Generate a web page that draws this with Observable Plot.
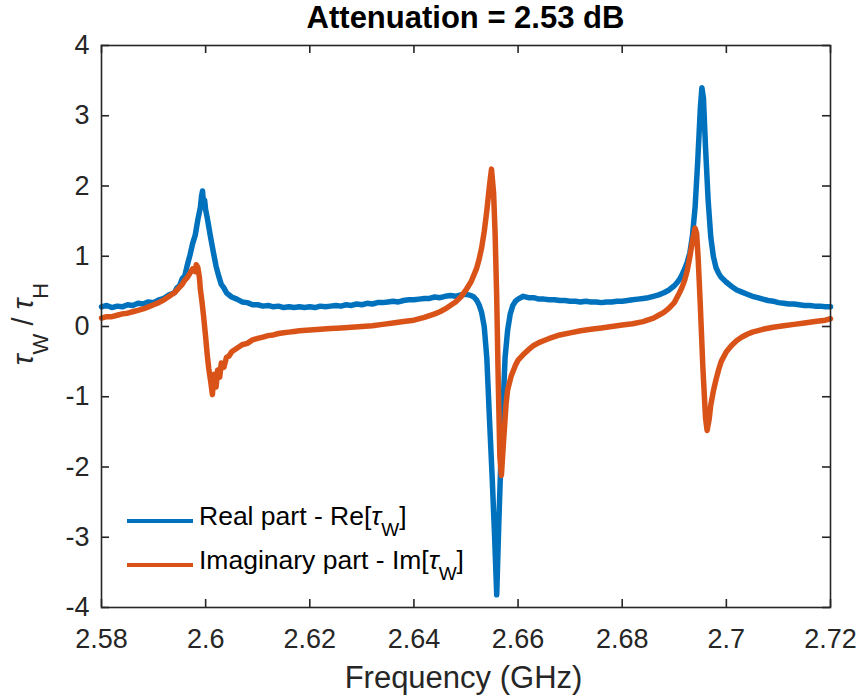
<!DOCTYPE html>
<html><head><meta charset="utf-8">
<script src="https://cdn.jsdelivr.net/npm/d3@7"></script>
<script src="https://cdn.jsdelivr.net/npm/@observablehq/plot@0.6"></script>
<style>body{margin:0;background:#fff} svg{display:block}</style>
</head><body><div id="chart"></div>
<script>
const title = "Attenuation = 2.53 dB";
const xLabel = "Frequency (GHz)";
const seriesNames = ["Real part - Re[", "Imaginary part - Im["];
const colors = ["#0072BD", "#D95319"];
const xTicks = [2.58, 2.6, 2.62, 2.64, 2.66, 2.68, 2.7, 2.72];
const xTickLabels = ["2.58", "2.6", "2.62", "2.64", "2.66", "2.68", "2.7", "2.72"];
const yTicks = [-4, -3, -2, -1, 0, 1, 2, 3, 4];

const freqRe = [2.580,2.581,2.582,2.583,2.584,2.585,2.586,2.587,2.588,2.589,
2.590,2.591,2.592,2.593,2.594,2.5945,2.595,2.5955,2.596,2.5965,2.597,2.5975,2.598,2.5985,2.599,2.5992,2.5994,2.5996,2.5998,
2.600,2.6003,2.6006,2.601,2.6015,2.602,2.6025,2.603,2.6035,2.604,2.605,2.606,2.607,2.608,2.609,
2.610,2.611,2.612,2.613,2.614,2.615,2.616,2.617,2.618,2.619,
2.620,2.621,2.622,2.623,2.624,2.625,2.626,2.627,2.628,2.629,
2.630,2.631,2.632,2.633,2.634,2.635,2.636,2.637,2.638,2.639,
2.640,2.641,2.642,2.643,2.644,2.645,2.646,2.647,2.648,2.649,
2.650,2.6505,2.651,2.6515,2.652,2.6525,2.653,2.6535,2.654,2.6545,2.655,2.6555,2.6559,2.6563,2.6567,2.657,2.6575,2.658,2.6585,2.659,2.6595,
2.660,2.661,2.662,2.663,2.664,2.665,2.666,2.667,2.668,2.669,
2.670,2.671,2.672,2.673,2.674,2.675,2.676,2.677,2.678,2.679,
2.680,2.681,2.682,2.683,2.684,2.685,2.686,2.687,2.688,2.689,
2.690,2.6905,2.691,2.6915,2.692,2.6925,2.693,2.6935,2.694,2.6945,2.695,2.6953,2.6956,2.696,2.6965,2.697,2.6975,2.698,2.6985,2.699,
2.700,2.701,2.702,2.703,2.704,2.705,2.706,2.707,2.708,2.709,
2.710,2.711,2.712,2.713,2.714,2.715,2.716,2.717,2.718,2.719,2.720];
const re = [0.28,0.30,0.27,0.29,0.28,0.31,0.30,0.33,0.32,0.35,
0.34,0.38,0.40,0.45,0.48,0.55,0.58,0.68,0.72,0.88,1.02,1.18,1.30,1.52,1.70,1.85,1.93,1.74,1.80,
1.66,1.55,1.42,1.25,1.05,0.86,0.72,0.60,0.55,0.48,0.42,0.39,0.35,0.34,0.31,
0.31,0.29,0.30,0.28,0.29,0.27,0.28,0.27,0.28,0.27,
0.28,0.27,0.29,0.28,0.29,0.30,0.29,0.31,0.30,0.32,
0.31,0.33,0.32,0.34,0.34,0.35,0.36,0.35,0.37,0.38,
0.38,0.39,0.40,0.40,0.42,0.41,0.43,0.44,0.43,0.45,
0.46,0.45,0.44,0.42,0.38,0.31,0.20,0.00,-0.45,-1.30,-2.10,-3.00,-3.82,-2.80,-1.90,-1.35,-0.45,-0.05,0.18,0.30,0.36,
0.39,0.43,0.41,0.41,0.39,0.39,0.38,0.38,0.37,0.37,
0.36,0.36,0.35,0.36,0.35,0.35,0.34,0.35,0.35,0.36,
0.36,0.37,0.38,0.39,0.40,0.41,0.43,0.45,0.48,0.52,
0.58,0.62,0.67,0.74,0.82,0.92,1.05,1.30,1.70,2.35,3.10,3.40,3.25,2.55,1.80,1.28,1.00,0.84,0.76,0.70,
0.63,0.57,0.52,0.49,0.46,0.43,0.41,0.39,0.37,0.36,
0.34,0.33,0.32,0.32,0.31,0.30,0.30,0.29,0.29,0.28,0.28];

const freqIm = [2.580,2.581,2.582,2.583,2.584,2.585,2.586,2.587,2.588,2.589,
2.590,2.591,2.592,2.593,2.594,2.595,2.5955,2.596,2.5965,2.597,2.5975,2.598,2.5982,2.5985,2.5988,2.599,2.5993,2.5996,
2.600,2.6003,2.6006,2.601,2.6013,2.6016,2.602,2.6023,2.6027,2.603,2.6035,2.604,2.6045,2.605,2.606,2.607,2.608,2.609,
2.610,2.611,2.612,2.613,2.614,2.615,2.616,2.617,2.618,2.620,2.622,2.624,2.626,2.628,
2.630,2.632,2.634,2.636,2.638,2.640,2.642,2.644,2.645,2.646,2.647,2.648,2.649,
2.650,2.651,2.652,2.6525,2.653,2.6535,2.654,2.6545,2.6549,2.6553,2.6556,2.6559,2.6562,2.6565,2.6568,2.6572,2.6577,2.658,2.6587,2.6595,
2.660,2.661,2.662,2.663,2.664,2.665,2.666,2.668,2.670,2.672,2.674,2.676,2.678,
2.680,2.682,2.684,2.686,2.687,2.688,2.689,
2.690,2.691,2.6915,2.692,2.6925,2.693,2.6935,2.694,2.6943,2.6946,2.695,2.6955,2.696,2.6963,2.6967,2.697,2.6975,2.698,2.6985,2.699,
2.700,2.701,2.702,2.703,2.704,2.705,2.707,2.709,2.711,2.713,2.715,2.717,2.719,2.720];
const im = [0.12,0.14,0.14,0.16,0.18,0.19,0.21,0.23,0.25,0.28,
0.31,0.34,0.38,0.43,0.48,0.56,0.60,0.66,0.70,0.76,0.82,0.78,0.88,0.84,0.70,0.52,0.35,0.15,
-0.15,-0.40,-0.60,-0.80,-0.97,-0.68,-0.86,-0.62,-0.72,-0.52,-0.58,-0.44,-0.42,-0.36,-0.31,-0.26,-0.24,-0.19,
-0.17,-0.15,-0.13,-0.12,-0.10,-0.09,-0.08,-0.07,-0.06,-0.05,-0.04,-0.03,-0.02,-0.01,
0.00,0.01,0.03,0.05,0.07,0.09,0.13,0.18,0.21,0.25,0.30,0.35,0.42,
0.52,0.64,0.82,0.95,1.12,1.35,1.65,2.00,2.24,1.90,1.30,0.40,-0.80,-1.85,-2.12,-1.65,-1.10,-0.90,-0.70,-0.55,
-0.48,-0.40,-0.33,-0.27,-0.23,-0.20,-0.17,-0.12,-0.09,-0.06,-0.04,-0.02,0.00,
0.02,0.04,0.07,0.12,0.16,0.20,0.26,
0.34,0.48,0.56,0.66,0.80,1.00,1.22,1.40,1.32,0.95,0.30,-0.60,-1.30,-1.48,-1.32,-1.12,-0.92,-0.76,-0.62,-0.50,
-0.36,-0.27,-0.20,-0.15,-0.11,-0.08,-0.04,-0.01,0.01,0.03,0.05,0.07,0.09,0.11];

const reData = freqRe.map((f, i) => ({f, v: re[i]}));
const imData = freqIm.map((f, i) => ({f, v: im[i]}));

const W = 862, H = 700, mL = 101, mR = 32, mT = 45, mB = 93;
const tickLen = 8;
const plotW = W - mL - mR, plotH = H - mT - mB;
const ink = "#262626";
const font = "'Liberation Sans', Arial, Helvetica, sans-serif";
const tickStyle = {stroke: ink, strokeWidth: 1.6};

const plot = Plot.plot({
  width: W, height: H,
  marginLeft: mL, marginRight: mR, marginTop: mT, marginBottom: mB,
  style: {fontFamily: font, color: ink, background: "#fff"},
  x: {domain: [2.58, 2.72]},
  y: {domain: [-4, 4]},
  marks: [
    Plot.line(reData, {x: "f", y: "v", stroke: colors[0], strokeWidth: 5.5, strokeLinejoin: "round"}),
    Plot.line(imData, {x: "f", y: "v", stroke: colors[1], strokeWidth: 5.5, strokeLinejoin: "round"}),
    Plot.tickX(xTicks, {x: d => d, insetTop: plotH - tickLen, ...tickStyle}),
    Plot.tickX(xTicks, {x: d => d, insetBottom: plotH - tickLen, ...tickStyle}),
    Plot.tickY(yTicks, {y: d => d, insetRight: plotW - tickLen, ...tickStyle}),
    Plot.tickY(yTicks, {y: d => d, insetLeft: plotW - tickLen, ...tickStyle}),
    Plot.frame({stroke: ink, strokeWidth: 1.6}),
    Plot.axisX(xTicks, {tickSize: 0, tickPadding: 21, fontSize: 27, label: null,
      tickFormat: d => xTickLabels[xTicks.indexOf(d)]}),
    Plot.axisY(yTicks, {tickSize: 0, tickPadding: 12, fontSize: 27, label: null,
      tickFormat: d => String(d)})
  ]
});

const svg = d3.select(plot);
const cx = mL + plotW / 2;
svg.append("text").attr("x", cx).attr("y", 28).attr("text-anchor", "middle")
  .attr("font-family", font).attr("font-weight", "bold").attr("font-size", 31).attr("fill", "#000").text(title);
svg.append("text").attr("x", cx - 2).attr("y", 688).attr("text-anchor", "middle")
  .attr("font-family", font).attr("font-size", 31).attr("fill", ink).text(xLabel);

// y label
const yl = svg.append("text").attr("transform", `translate(33,${mT + plotH / 2 - 2}) rotate(-90)`)
  .attr("text-anchor", "middle").attr("font-family", font).attr("font-size", 29).attr("fill", ink);
yl.append("tspan").attr("font-style", "italic").text("τ");
yl.append("tspan").attr("font-size", 22).attr("dy", 15).text("W");
yl.append("tspan").attr("dy", -15).text(" / ");
yl.append("tspan").attr("font-style", "italic").text("τ");
yl.append("tspan").attr("font-size", 22).attr("dy", 15).text("H");

// legend
const legY = [521, 565];
seriesNames.forEach((name, i) => {
  svg.append("line").attr("x1", 127).attr("x2", 193).attr("y1", legY[i]).attr("y2", legY[i])
    .attr("stroke", colors[i]).attr("stroke-width", 4);
  const t = svg.append("text").attr("x", 199).attr("y", legY[i] + 4).attr("text-anchor", "start")
    .attr("font-family", font).attr("font-size", 26.5).attr("fill", "#000");
  t.append("tspan").text(name);
  t.append("tspan").attr("font-style", "italic").text("τ");
  t.append("tspan").attr("font-size", 19).attr("dy", 11).text("W");
  t.append("tspan").attr("dy", -11).text("]");
});

document.getElementById("chart").appendChild(plot);
</script>
</body></html>
